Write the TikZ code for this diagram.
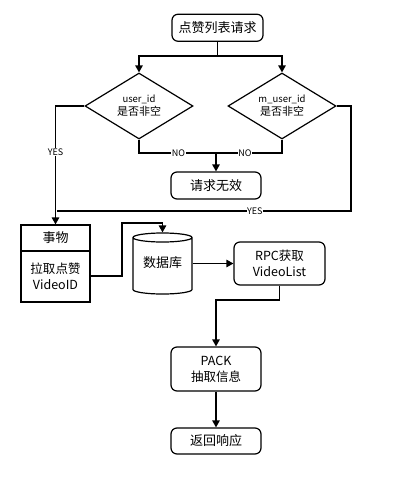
\documentclass[tikz,border=0pt]{standalone}
\usepackage{fontspec}
\setmainfont{Noto Sans CJK SC}
\usetikzlibrary{arrows.meta,shapes.geometric}
\begin{document}
\begin{tikzpicture}[x=1pt,y=-1pt,line width=1.2pt,
  arr/.style={-{Triangle[length=7pt,width=7.5pt]}},
  rbox/.style={draw,rounded corners=6pt,inner sep=0pt,align=center,font=\fontsize{12.5}{16}\selectfont},
  dia/.style={draw,diamond,aspect=1.64,inner sep=0pt,minimum width=108pt,minimum height=66pt,align=center},
  lbl/.style={fill=white,inner sep=0.6pt,font=\fontsize{9}{10}\selectfont},
  plain/.style={inner sep=0pt,align=center,font=\fontsize{12.5}{16}\selectfont}]
\useasboundingbox (0,0) rectangle (408,479);
\fill[white] (0,0) rectangle (408,479);
% nodes
\node[rbox,minimum width=91pt,minimum height=27pt,font=\fontsize{13}{16}\selectfont] (top) at (217.5,27.75) {点赞列表请求};
\node[dia] (d1) at (139,106) {{\fontsize{9.5}{11}\selectfont user\_id}\\[1pt]{\fontsize{11}{13}\selectfont 是否非空}};
\node[dia] (d2) at (282,106) {{\fontsize{9.5}{11}\selectfont m\_user\_id}\\[1pt]{\fontsize{11}{13}\selectfont 是否非空}};
\node[rbox,minimum width=90pt,minimum height=27pt,font=\fontsize{13}{16}\selectfont] (inv) at (216,185.5) {请求无效};
\node[draw,minimum width=69pt,minimum height=77pt,inner sep=0pt] (tx) at (55.5,263.5) {};
\draw (21,251) -- (90,251);
\node[plain,font=\fontsize{13}{16}\selectfont] (txh) at (55.5,238) {事物};
\node[plain] (txb) at (55.5,276) {拉取点赞\\VideoID};
% cylinder
\node[inner sep=0pt,minimum width=59pt,minimum height=61pt] (db) at (162.5,263.5) {};
\draw (133,237.5) -- (133,289.5) arc[start angle=180,end angle=360,x radius=29.5pt,y radius=4.5pt]
  -- (192,237.5) arc[start angle=0,end angle=180,x radius=29.5pt,y radius=4.5pt]
  arc[start angle=180,end angle=360,x radius=29.5pt,y radius=4.5pt];
\node[plain,font=\fontsize{13}{16}\selectfont] (dbt) at (162.5,263) {数据库};
\node[rbox,minimum width=91pt,minimum height=43pt] (rpc) at (279.5,263.5) {RPC获取\\VideoList};
\node[rbox,minimum width=90pt,minimum height=44pt] (pack) at (216,369) {PACK\\抽取信息};
\node[rbox,minimum width=90pt,minimum height=26pt,font=\fontsize{13}{16}\selectfont] (ret) at (216,441) {返回响应};
% connectors
\coordinate (j1) at (217.5,56);
\draw (top.south) -- (j1);
\draw[arr] (j1) -| (d1.north);
\draw[arr] (j1) -| (d2.north);
\coordinate (j2) at (216,153);
\draw (d1.south) |- node[lbl,pos=0.756]{NO} (j2);
\draw (d2.south) |- node[lbl,pos=0.78]{NO} (j2);
\draw[arr] (j2) -- (inv.north);
\draw[arr] (d1.west) -| node[lbl,pos=0.693]{YES} (tx.north);
\coordinate (c1) at (351,211);
\coordinate (c2) at (57,211);
\draw (d2.east) -| (c1) -- node[lbl,pos=0.327]{YES} (c2);
\coordinate (c3) at (122,223);
\draw[arr] ([yshift=-12.5pt]tx.east) -| (c3) -| (db.north);
\draw[arr] (db.east) -- (rpc.west);
\coordinate (c4) at (279.5,300);
\draw (rpc.south) -- (c4);
\draw[arr] (c4) -| (pack.north);
\draw[arr] (pack.south) -- (ret.north);
\end{tikzpicture}
\end{document}
